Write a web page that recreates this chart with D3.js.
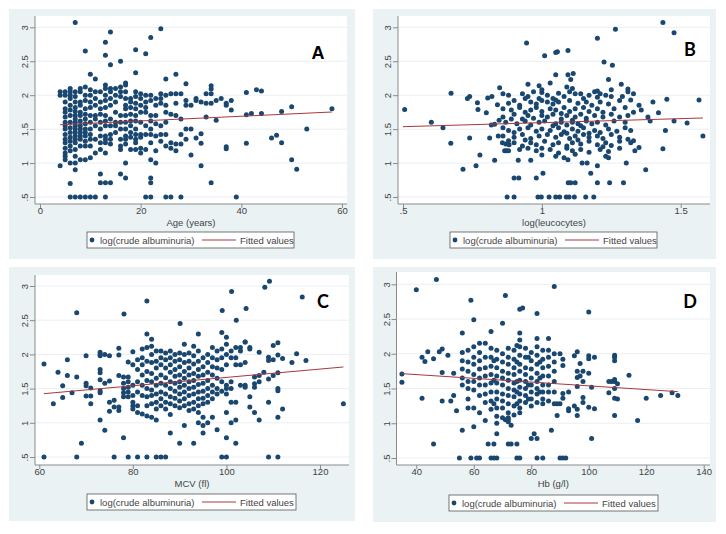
<!DOCTYPE html>
<html><head><meta charset="utf-8">
<script src="https://cdn.jsdelivr.net/npm/d3@7"></script>
<style>body{margin:0;background:#fff}svg{display:block}</style>
</head><body><svg id="c" width="726" height="534"></svg>
<script>
// ---------- shared ----------
const yTicks=[0.5,1,1.5,2,2.5,3];
const yTickLabels=[".5","1","1.5","2","2.5","3"];
const seriesLabel="log(crude albuminuria)";
const fitLabel="Fitted values";

// ---------- Panel A : Age ----------
const ageTicks=[0,20,40,60];
const ageTickLabels=["0","20","40","60"];
const ageCols=[
[4,[2.05,2.0,0.96]],
[5,[2.05,2.0,1.9,1.8,1.75,1.68,1.6,1.55,1.5,1.42,1.35,1.3,1.22,1.15,1.1,1.05]],
[6,[2.1,2.05,2.0,1.95,1.85,1.78,1.7,1.6,1.52,1.45,1.38,1.32,1.25,1.18,1.0,0.7,0.5]],
[7,[3.07,2.05,1.98,1.9,1.82,1.76,1.7,1.65,1.6,1.55,1.5,1.45,1.4,1.35,1.3,1.2,1.1,1.0,0.9,0.5]],
[8,[2.1,2.05,1.9,1.85,1.75,1.7,1.62,1.55,1.5,1.45,1.4,1.35,1.25,1.05,0.5]],
[9,[2.65,2.12,2.0,1.92,1.8,1.72,1.65,1.58,1.5,1.45,1.4,1.32,1.25,1.05,0.5]],
[10,[2.31,2.08,2.0,1.9,1.82,1.7,1.6,1.5,1.42,1.35,1.25,1.08,0.5]],
[11,[2.24,2.05,1.95,1.85,1.7,1.65,1.55,1.35,1.15,0.5]],
[12,[2.05,1.9,1.8,1.72,1.6,1.5,1.4,1.3,1.2,0.84,0.71]],
[13,[2.78,2.59,2.15,2.1,2.0,1.92,1.82,1.7,1.62,1.55,1.4,1.35,1.3,1.15,0.71,0.5]],
[14,[2.93,2.45,2.1,2.05,1.95,1.85,1.65,1.55,1.42,1.35,1.28,0.71]],
[15,[2.1,2.0,1.9,1.75,1.6,1.55,1.45]],
[16,[2.5,2.12,2.05,1.98,1.7,1.6,1.5,1.35,1.25,1.2,0.84]],
[17,[2.18,2.15,2.05,1.95,1.85,1.8,1.7,1.6,1.5,1.4,1.35,1.28,1.0,0.78]],
[18,[1.95,1.9,1.82,1.72,1.62,1.55,1.45,1.38,1.2]],
[19,[2.67,2.33,2.05,1.98,1.88,1.8,1.7,1.62,1.5,1.42,1.35,1.3,1.2]],
[20,[2.02,1.95,1.85,1.75,1.6,1.42,1.38,1.22,1.15]],
[21,[2.61,2.0,1.9,1.82,1.75,1.55,1.42,1.2,0.5]],
[22,[2.85,2.0,1.92,1.7,1.62,1.5,1.42,1.3,1.05,0.78,0.71,0.5]],
[23,[1.95,1.85,1.7,1.58,1.4,1.18,1.0]],
[24,[2.98,2.02,1.95,1.88,1.55,1.42,1.32]],
[25,[2.24,2.0,1.85,1.75,1.6,1.42,1.25,0.5]],
[26,[2.02,1.72,1.3,1.22,0.5]],
[27,[2.31,2.02,1.88,1.7,1.28,1.18]],
[28,[2.02,1.65,1.42,1.28,0.5]],
[29,[2.17,1.92,1.85,1.5,1.35]],
[30,[1.85,1.5,1.12]],
[31,[1.95,1.92,1.37]],
[32,[1.9,1.43,1.29,0.96]],
[33,[2.02,1.88,1.68]],
[34,[2.14,2.09,2.02,1.88,0.71]],
[35,[1.92,1.63]],
[36,[1.95]],
[37,[1.88,1.85,1.24,1.21]],
[38,[1.92,1.78]],
[39,[0.5]],
[41,[2.04,1.71,1.29]],
[42,[1.73]],
[43,[2.08]],
[44,[2.06,1.73]],
[46,[1.37]],[47,[1.41]],[48,[1.76,1.3]],[50,[1.83,1.05]],[51,[0.91]],[53,[1.5]],[58,[1.8]]
];
const ageFit=[[4,1.565],[58,1.752]];

// ---------- Panel B : log(leucocytes) ----------
const leucTicks=[0.5,1,1.5];
const leucTickLabels=[".5","1","1.5"];
const leucPoints=[
[1.436,3.07],[1.476,2.92],[1.265,2.97],[1.2,2.84],[0.945,2.77],[1.094,2.66],[1.05,2.63],[1.056,2.64],[1.01,2.58],[1.224,2.49],[1.254,2.44],[1.05,2.3],[1.094,2.3],[1.113,2.32],[1.104,2.23],[1.24,2.23],[1.286,2.16],[1.31,2.09],[1.33,2.02],
[0.506,1.79],[0.602,1.6],[0.644,1.52],[0.673,2.03],[0.672,1.29],[0.716,0.91],[0.74,1.98],[0.732,1.95],[0.74,1.37],[0.763,0.96],[0.768,1.89],[0.77,1.79],[0.777,1.12],[0.805,1.96],[0.8,1.74],[0.812,1.37],[0.818,1.56],[0.83,1.04],[0.82,1.98],[0.848,2.11],[0.84,1.86],[0.846,1.63],[0.843,1.4],
[1.566,1.93],[1.58,1.4],[1.523,1.59],[1.476,1.62],[1.45,1.94],[1.445,1.48],[1.436,1.21],[1.4,1.9],[1.374,0.9],[1.42,1.74],[1.39,1.62],[1.382,1.68],[1.358,1.78],[1.35,1.85],[1.35,1.23],[1.335,1.18],[1.304,1.0],
[1.294,0.71],[1.244,0.71],[1.2,0.71],[1.2,0.96],[1.176,0.85],[1.187,0.5],[1.158,0.5],[1.117,0.5],[1.088,0.5],[1.098,0.5],[1.064,0.5],[1.05,0.5],[1.026,0.5],[0.998,0.5],[0.986,0.5],[0.9,0.5],[0.875,0.5],[0.98,0.78],[1.004,0.85],[0.9,0.78],[0.917,0.78],[1.095,0.71],[1.104,0.71],[1.12,0.71],[1.145,1.0],[1.163,1.0],[1.094,1.05],[0.96,1.04],[0.915,1.04],
[0.858,1.3],[0.866,1.18],[0.872,1.18],[0.882,1.27],
[0.95,2.16],[0.99,2.14],[1.0,2.08],[1.03,2.18],[1.09,2.12],[1.11,2.1],[0.97,2.05],[1.2,2.06],[1.21,2.02],[1.25,2.08],[1.19,2.05],[1.25,1.98],
[0.86,2.02],[0.88,2.0],[0.93,2.02],[0.95,1.98],[1.02,2.0],[1.06,2.03],[1.08,1.98],[1.12,2.02],[1.14,2.02],[1.17,2.0],[1.2,1.97],[1.23,2.0],[1.29,1.98],[1.31,2.05],[0.94,1.95],[1.0,2.04],[1.04,1.95],[1.1,2.05],
[0.88,1.88],[0.9,1.92],[0.92,1.85],[0.96,1.9],[0.98,1.87],[1.0,1.92],[1.02,1.9],[1.04,1.87],[1.06,1.9],[1.1,1.92],[1.13,1.88],[1.16,1.9],[1.18,1.85],[1.21,1.9],[1.24,1.87],[1.28,1.92],[1.32,1.93],[0.99,1.95],[1.05,1.93],[1.15,1.95],
[0.86,1.8],[0.89,1.78],[0.92,1.82],[0.96,1.78],[0.98,1.82],[1.0,1.76],[1.03,1.8],[1.05,1.78],[1.08,1.82],[1.1,1.76],[1.12,1.8],[1.15,1.82],[1.17,1.76],[1.2,1.8],[1.22,1.75],[1.26,1.8],[1.3,1.82],[1.33,1.75],[0.94,1.75],[1.07,1.73],
[0.86,1.68],[0.9,1.72],[0.93,1.65],[0.95,1.7],[0.97,1.66],[1.0,1.7],[1.02,1.68],[1.04,1.72],[1.07,1.65],[1.09,1.7],[1.12,1.68],[1.14,1.72],[1.16,1.66],[1.19,1.7],[1.22,1.68],[1.25,1.72],[1.28,1.68],[1.31,1.7],[0.89,1.65],[1.11,1.63],
[0.87,1.6],[0.91,1.58],[0.94,1.62],[0.96,1.56],[0.99,1.6],[1.01,1.62],[1.05,1.58],[1.07,1.6],[1.09,1.56],[1.11,1.6],[1.13,1.58],[1.16,1.62],[1.18,1.58],[1.2,1.6],[1.23,1.56],[1.26,1.62],[1.3,1.6],[0.83,1.57],[1.04,1.55],[1.14,1.55],
[0.86,1.52],[0.88,1.48],[0.92,1.5],[0.95,1.52],[0.98,1.47],[1.0,1.5],[1.03,1.48],[1.06,1.52],[1.08,1.46],[1.11,1.5],[1.13,1.47],[1.15,1.52],[1.19,1.48],[1.21,1.45],[1.24,1.5],[1.27,1.47],[1.3,1.52],[1.32,1.48],[0.9,1.45],[1.17,1.44],
[0.86,1.4],[0.9,1.38],[0.93,1.42],[0.96,1.36],[0.99,1.4],[1.02,1.42],[1.05,1.38],[1.07,1.42],[1.1,1.36],[1.12,1.4],[1.15,1.42],[1.17,1.38],[1.2,1.4],[1.22,1.36],[1.25,1.42],[1.28,1.38],[1.31,1.35],[1.33,1.33],[0.94,1.34],[1.09,1.44],
[0.87,1.28],[0.9,1.3],[0.93,1.25],[0.96,1.3],[0.98,1.27],[1.01,1.32],[1.04,1.27],[1.06,1.3],[1.09,1.25],[1.11,1.3],[1.14,1.28],[1.17,1.32],[1.2,1.27],[1.23,1.3],[1.25,1.26],[1.28,1.32],[1.32,1.3],[1.22,1.24],[0.88,1.33],[1.13,1.34],
[0.88,1.18],[0.92,1.2],[0.95,1.22],[0.98,1.18],[1.0,1.22],[1.03,1.2],[1.06,1.15],[1.09,1.22],[1.11,1.18],[1.14,1.2],[1.17,1.16],[1.21,1.2],[1.24,1.17],[1.28,1.22],[1.23,1.1],[1.24,1.08],[1.05,1.1],[1.08,1.08],[1.0,1.12],[1.12,1.13]
];
const leucFit=[[0.5,1.536],[1.58,1.664]];

// ---------- Panel C : MCV ----------
const mcvTicks=[60,80,100,120];
const mcvTickLabels=["60","80","100","120"];
const mcvPoints=[
[109.2,3.07],[108.2,2.98],[101.1,2.92],[116.2,2.84],[83,2.78],[104.2,2.67],[99.1,2.64],[68,2.61],[78.1,2.59],[102.1,2.5],[90.1,2.45],
[61,1.86],[63,1.28],[64,1.74],[65,1.54],[65,1.37],[66,1.92],[66,1.69],[67,1.44],[68,1.67],[69,0.7],[61,0.5],[68,0.5],
[70,1.98],[70,1.58],[70,1.54],[70,1.39],[71,1.51],[71,1.39],[71,1.28],
[73,2.03],[73,2.0],[73,1.98],[73,1.78],[73,1.73],[73,1.63],[73,1.47],[73,1.44],[73,1.04],
[74,0.89],[74,2.0],[74,1.58],[75,1.98],[75,1.3],[75,1.17],[75,1.61],
[76,0.5],[76,1.23],[76,1.33],[77,2.09],[77,1.99],[77,1.69],[77,1.23],[77,1.18],
[78,1.67],[78,1.58],[78,1.5],[78,1.44],[78,1.38],[78,0.78],
[79,0.5],[79,1.89],[79,1.67],[79,1.6],[79,1.52],[79,1.45],[79,1.38],
[81,0.5],[83,0.5],[85,0.5],[86,0.5],[87,0.5],[99,0.5],[100,0.5],[109,0.5],[111,0.5],
[90,0.7],[93,0.7],[102,0.7],[88,0.85],[100,0.78],[95,0.85],[98,0.9],
[91,0.96],[94,1.0],[95,0.96],[96,1.0],[95,1.08],[97,1.08],[101,1.0],[102,1.04],[100,1.15],[107,1.04],[111,1.08],[112,1.2],[106,1.15],
[111,2.17],[110,2.13],[111,1.99],[112,1.94],[114,1.88],[115,2.01],[117,1.91],[109,1.96],[109,1.91],[110,1.92],[110,1.69],[111,1.73],[108,1.74],[109,1.64],[111,1.5],[111,1.47],[109,1.3],[107,1.69],[107,1.6],[106,1.67],[106,1.57],[106,1.52],[105,1.38],[105,1.23],[105,2.1],[105,2.08],[104,2.18],[103,2.1],[125,1.28],[107,2.03]
];
const mcvCols=[
[80,[2.04,1.85,1.55,1.4,1.3,1.25,1.2]],
[81,[1.92,1.78,1.6,1.45,1.25,1.15]],
[82,[2.08,1.95,1.85,1.7,1.55,1.4,1.13]],
[83,[2.3,2.1,1.9,1.75,1.62,1.5,1.38,1.25,1.1]],
[84,[2.22,2.12,2.0,1.88,1.72,1.6,1.48,1.4,1.28,1.08]],
[85,[2.05,1.9,1.8,1.65,1.55,1.42,1.3,1.2,1.04]],
[86,[2.05,1.95,1.85,1.7,1.58,1.45,1.35,1.25]],
[87,[2.02,1.92,1.8,1.66,1.55,1.42,1.3,1.2]],
[88,[2.05,1.95,1.85,1.74,1.6,1.5,1.38,1.28,1.12]],
[89,[2.0,1.9,1.78,1.68,1.58,1.46,1.36,1.25]],
[90,[2.02,1.92,1.82,1.7,1.6,1.52,1.42,1.32,1.22]],
[91,[2.15,2.0,1.88,1.75,1.65,1.55,1.45,1.35,1.25]],
[92,[2.02,1.9,1.8,1.7,1.6,1.5,1.4,1.28,1.18]],
[93,[2.12,1.98,1.86,1.72,1.62,1.52,1.42,1.3,1.2]],
[94,[2.3,2.05,1.9,1.78,1.68,1.56,1.45,1.35,1.25,1.15]],
[95,[1.95,1.82,1.7,1.58,1.46,1.36,1.28]],
[96,[2.0,1.88,1.74,1.62,1.5,1.4,1.3]],
[97,[2.1,1.95,1.82,1.7,1.55,1.45,1.35]],
[98,[2.05,1.92,1.8,1.65,1.5,1.42]],
[99,[2.32,2.08,1.95,1.78,1.6,1.46]],
[100,[2.25,2.15,2.0,1.85,1.55,1.5,1.42]],
[101,[2.05,1.95,1.6,1.5,1.3]],
[102,[2.1,1.95,1.85,1.3]],
[103,[2.05,1.85,1.55]],
[104,[2.18,1.88,1.55,1.52]]
];
const mcvFit=[[61,1.426],[125,1.816]];

// ---------- Panel D : Hb ----------
const hbTicks=[40,60,80,100,120,140];
const hbTickLabels=["40","60","80","100","120","140"];
const hbPoints=[
[47,3.07],[40,2.92],[88,2.97],[71,2.84],[59,2.77],[76,2.64],[77,2.66],[82,2.58],[100,2.6],[60,2.49],[70,2.44],[66,2.32],[56,2.3],[76,2.3],
[35,1.71],[35,1.59],[42,1.36],[42,1.95],[43,1.89],[44,2.03],[46,1.93],[48,2.03],[49,2.07],[49,1.73],[49,1.32],[46,0.7],[51,1.98],[53,1.72],[52,1.32],[53,1.4],[54,1.18],
[55,0.5],[56,0.9],[60,0.95],[59,0.5],[61,0.5],[62,0.5],[66,0.5],[67,0.5],[68,0.5],[75,0.5],[76,0.5],[82,0.5],[84,0.5],[90,0.5],[91,0.5],[92,0.5],
[65,0.7],[67,0.7],[72,0.7],[73,0.7],[75,0.7],[68,0.85],[80,0.78],[81,0.85],[82,0.78],[87,0.9],[101,0.78],
[64,1.04],[68,1.0],[71,1.05],[72,1.02],[73,0.97],[72,1.08],
[117,1.04],[120,1.36],[125,1.4],[129,1.44],[131,1.4],[114,1.69],[109,1.6],[110,1.57],[107,1.6],[108,1.6],[109,1.5],[107,1.44],[109,1.63],[109,1.36],[110,1.35],[109,1.11],[109,1.98],[109,1.95],[109,1.9],
[102,1.95],[100,1.97],[100,1.93],[100,1.72],[101,1.52],[102,1.21],[100,1.23],[96,1.11],[96,1.2],[95,1.25],[98,1.3],[98,1.37],[98,1.6],[98,1.75],[97,1.68],[97,1.86],[96,2.03],[95,1.97],[96,1.75],[96,1.66],[96,1.53],[93,1.45],[93,1.21],[93,1.18],[91,1.43],[91,1.36],[91,1.92],[91,1.83],[90,2.0],[90,1.28],[89,1.28],[89,1.11]
];
const hbCols=[
[56,[2.02,1.9,1.78,1.65,1.55]],
[58,[2.05,1.88,1.75,1.6,1.5,1.35,1.22]],
[60,[2.1,1.95,1.85,1.7,1.6,1.48,1.22]],
[62,[2.15,2.02,1.9,1.78,1.65,1.55,1.4,1.15]],
[64,[2.15,1.95,1.8,1.68,1.55,1.42,1.3]],
[66,[2.08,1.95,1.82,1.7,1.58,1.45,1.32,1.2]],
[67,[1.9,1.62,1.28]],
[68,[2.05,1.92,1.8,1.68,1.58,1.45,1.35,1.22,1.1]],
[70,[2.0,1.88,1.75,1.65,1.55,1.42,1.32,1.22,1.08]],
[72,[2.08,1.95,1.85,1.72,1.62,1.5,1.4,1.28,1.15,1.05]],
[74,[2.05,1.92,1.8,1.7,1.58,1.48,1.38,1.25,1.12]],
[75,[2.12,1.88,1.6,1.45,1.28]],
[76,[2.2,2.1,1.98,1.85,1.75,1.62,1.52,1.42,1.32,1.22,1.15]],
[78,[2.08,1.95,1.8,1.7,1.6,1.5,1.4,1.3]],
[79,[1.95,1.55,1.35]],
[80,[2.02,1.9,1.78,1.65,1.55,1.45,1.35,1.25]],
[82,[2.22,2.1,1.98,1.85,1.72,1.6,1.5,1.42,1.3]],
[83,[1.88,1.65,1.45]],
[84,[2.05,1.92,1.8,1.68,1.55,1.45,1.35,1.28]],
[86,[2.22,2.05,1.95,1.82,1.68,1.55,1.45,1.32]],
[88,[2.0,1.88,1.75,1.6,1.45,1.28]]
];
const hbFit=[[35,1.714],[131,1.455]];

// ---------- build ----------
const flat=cols=>cols.flatMap(([x,ys])=>ys.map(y=>[x,y]));

const panels=[
 {letter:"A",title:"Age (years)",pts:flat(ageCols),fit:ageFit,xt:ageTicks,xl:ageTickLabels,
  xd:[0,60],xr:[40,342],yr:[197,27.3],bg:[9,9,355,259],plot:[35,16,347,204],leg:[87,232,294,248],lp:[318,59],lf:"Liberation Sans"},
 {letter:"B",title:"log(leucocytes)",pts:leucPoints,fit:leucFit,xt:leucTicks,xl:leucTickLabels,
  xd:[0.5,1.5],xr:[403,680.7],yr:[197,27.3],bg:[373,9,716,259],plot:[398,16,710,204],leg:[450,232,657,248],lp:[690,56],lf:"Lato"},
 {letter:"C",title:"MCV (fl)",pts:mcvPoints.concat(flat(mcvCols)),fit:mcvFit,xt:mcvTicks,xl:mcvTickLabels,
  xd:[60,120],xr:[39.3,320],yr:[457,286],bg:[9,267,355,521],plot:[35,275,349,465],leg:[87,494,296,510],lp:[323,308],lf:"Lato"},
 {letter:"D",title:"Hb (g/l)",pts:hbPoints.concat(flat(hbCols)),fit:hbFit,xt:hbTicks,xl:hbTickLabels,
  xd:[40,140],xr:[416.3,703.7],yr:[458,284.3],bg:[373,267,716,522],plot:[396.5,272,710,465],leg:[449,495,658,511],lp:[690,308],lf:"Lato"}
];

const svg=d3.select("#c");
const dotColor="#1a476f", fitColor="#a8383b", bgColor="#eaf2f3", axisColor="#8a8a8a";
const font="'Liberation Sans', Arial, sans-serif";

panels.forEach(p=>{
  const g=svg.append("g");
  const [bx0,by0,bx1,by1]=p.bg, [px0,py0,px1,py1]=p.plot;
  g.append("rect").attr("x",bx0).attr("y",by0).attr("width",bx1-bx0).attr("height",by1-by0).attr("fill",bgColor);
  g.append("rect").attr("x",px0).attr("y",py0).attr("width",px1-px0).attr("height",py1-py0).attr("fill","#fff");
  const x=d3.scaleLinear().domain(p.xd).range(p.xr);
  const y=d3.scaleLinear().domain([0.5,3]).range(p.yr);
  // gridlines
  g.selectAll(".grid").data(yTicks).join("line")
   .attr("x1",px0).attr("x2",px1).attr("y1",d=>y(d)).attr("y2",d=>y(d))
   .attr("stroke","#eaeff1").attr("stroke-width",1);
  // y axis
  const ya=g.append("g").attr("transform",`translate(${px0},0)`)
    .call(d3.axisLeft(y).tickValues(yTicks).tickFormat((d,i)=>yTickLabels[i]).tickSize(5).tickSizeOuter(0));
  ya.select(".domain").remove();
  ya.append("line").attr("x1",0).attr("x2",0).attr("y1",py0).attr("y2",py1).attr("stroke",axisColor);
  ya.selectAll(".tick line").attr("stroke",axisColor);
  ya.selectAll(".tick text").attr("transform","rotate(-90)").attr("x",0).attr("y",-7).attr("dy",null)
    .attr("text-anchor","middle").attr("fill","#444").style("font-family",font).style("font-size","9.5px");
  // x axis
  const xa=g.append("g").attr("transform",`translate(0,${py1})`)
    .call(d3.axisBottom(x).tickValues(p.xt).tickFormat((d,i)=>p.xl[i]).tickSize(4).tickSizeOuter(0));
  xa.select(".domain").remove();
  xa.append("line").attr("x1",px0).attr("x2",px1).attr("y1",0).attr("y2",0).attr("stroke",axisColor);
  xa.selectAll(".tick line").attr("stroke",axisColor);
  xa.selectAll(".tick text").attr("y",3.5).attr("fill","#444").style("font-family",font).style("font-size","9.5px");
  // axis title
  g.append("text").attr("x",(px0+px1)/2).attr("y",py1+21.5).attr("text-anchor","middle")
   .attr("fill","#444").style("font-family",font).style("font-size","9.5px").text(p.title);
  // points
  g.selectAll(".pt").data(p.pts).join("circle")
   .attr("cx",d=>x(d[0])).attr("cy",d=>y(d[1])).attr("r",2.5).attr("fill",dotColor);
  // fitted line
  g.append("path").datum(p.fit).attr("fill","none").attr("stroke",fitColor).attr("stroke-width",1)
   .attr("d",d3.line().x(d=>x(d[0])).y(d=>y(d[1])));
  // letter
  g.append("text").attr("x",p.lp[0]).attr("y",p.lp[1]).attr("text-anchor","middle")
   .style("font-family",`'${p.lf}', sans-serif`).style("font-weight","bold").style("font-size","18px").attr("fill","#000").text(p.letter);
  // legend
  const [lx0,ly0,lx1,ly1]=p.leg, lcy=(ly0+ly1)/2;
  g.append("rect").attr("x",lx0).attr("y",ly0).attr("width",lx1-lx0).attr("height",ly1-ly0)
   .attr("fill","#fff").attr("stroke","#555").attr("stroke-width",0.8);
  g.append("circle").attr("cx",lx0+5).attr("cy",lcy).attr("r",2.4).attr("fill",dotColor);
  g.append("text").attr("x",lx0+13).attr("y",lcy+3.5).attr("fill","#444").style("font-family",font).style("font-size","9.5px").text(seriesLabel);
  g.append("line").attr("x1",lx0+115).attr("x2",lx0+149).attr("y1",lcy).attr("y2",lcy).attr("stroke",fitColor).attr("stroke-width",1);
  g.append("text").attr("x",lx0+153).attr("y",lcy+3.5).attr("fill","#444").style("font-family",font).style("font-size","9.5px").text(fitLabel);
});
</script></body></html>
